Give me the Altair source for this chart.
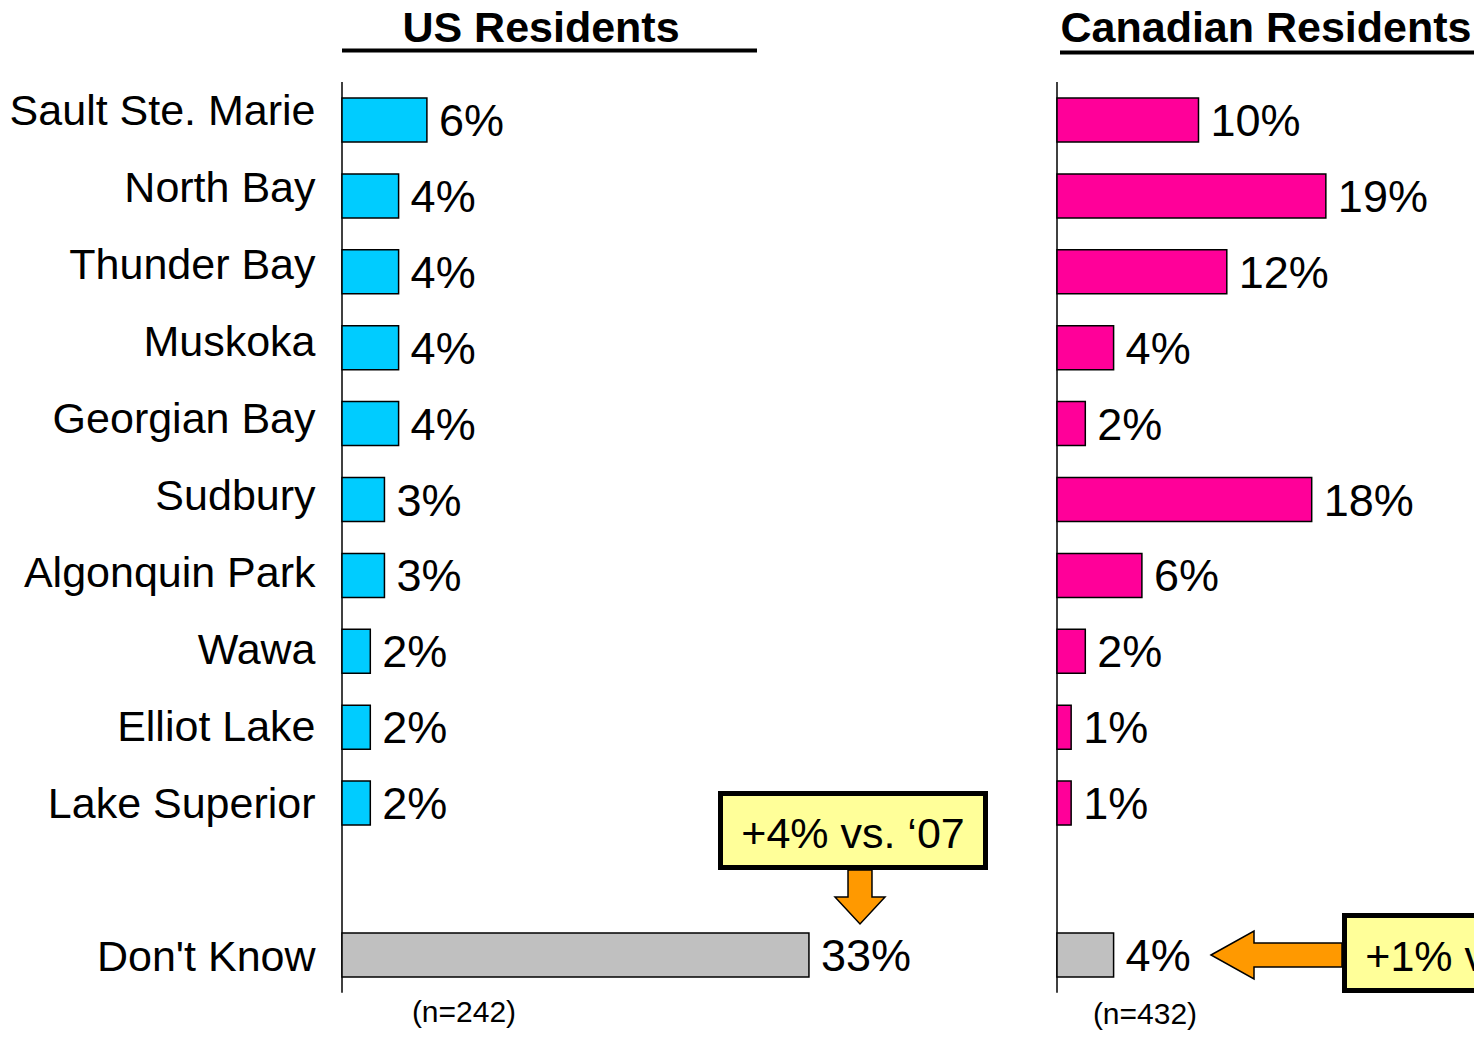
import altair as alt
import pandas as pd

# ---- data ----
categories = ["Sault Ste. Marie", "North Bay", "Thunder Bay", "Muskoka", "Georgian Bay",
              "Sudbury", "Algonquin Park", "Wawa", "Elliot Lake", "Lake Superior", "Don't Know"]
us_values = [6, 4, 4, 4, 4, 3, 3, 2, 2, 2, 33]
ca_values = [10, 19, 12, 4, 2, 18, 6, 2, 1, 1, 4]
panel_titles = ["US Residents", "Canadian Residents"]
sample_sizes = ["(n=242)", "(n=432)"]
callouts = ["+4% vs. \u201807", "+1% vs. \u201807"]

FONT = "Liberation Sans"
W, H = 1466, 1022
PX = 14.15      # pixels per percentage point
STEP = 75.9     # pixels per row

# rows: a blank gap is left before "Don't Know"
rows = list(range(len(categories) - 1)) + [len(categories)]

# scales (page x of US zero line 342, Canadian 1057; row 0 centre at page y 120)
XUS = alt.Scale(domain=[(8 - 342) / PX, (8 + W - 342) / PX], nice=False, zero=False)
XCA = alt.Scale(domain=[(8 - 1057) / PX, (8 + W - 1057) / PX], nice=False, zero=False)
Y = alt.Scale(domain=[(8 - 120) / STEP, (8 + H - 120) / STEP], nice=False, zero=False, reverse=True)


def make_df(values):
    df = pd.DataFrame({"cat": categories, "row": rows, "value": values})
    df["label"] = df["value"].astype(str) + "%"
    df["zero"] = 0
    df["y0"] = df["row"] - 0.29
    df["y1"] = df["row"] + 0.29
    return df


def panel(values, xs, color, title, title_x, title_row, ul_x, ul_x2, ul_row,
          n_text, n_x, n_row, arrow_path, arrow_size, arrow_x, arrow_row,
          box, box_text, box_text_x, box_text_row, with_labels):
    df = make_df(values)
    layers = []

    axis_df = pd.DataFrame({"x": [0], "y": [-0.5], "y2": [11.5]})
    layers.append(alt.Chart(axis_df).mark_rule(color="black", strokeWidth=1.5).encode(
        x=alt.X("x:Q", scale=xs, axis=None),
        y=alt.Y("y:Q", scale=Y, axis=None), y2="y2:Q"))

    layers.append(alt.Chart(df).mark_rect(stroke="black", strokeWidth=1.5).encode(
        x=alt.X("zero:Q", scale=xs, axis=None), x2="value:Q",
        y=alt.Y("y0:Q", scale=Y, axis=None), y2="y1:Q",
        color=alt.condition(alt.datum.cat == "Don't Know", alt.value("#C0C0C0"), alt.value(color))))

    layers.append(alt.Chart(df).mark_text(align="left", baseline="middle", dx=12, dy=2,
                                          fontSize=45, font=FONT, color="black").encode(
        x=alt.X("value:Q", scale=xs, axis=None),
        y=alt.Y("row:Q", scale=Y, axis=None), text="label:N"))

    if with_labels:
        layers.append(alt.Chart(df).transform_calculate(
            ly="datum.row * 1.0133 - 0.099", lx="-1.87").mark_text(
            align="right", baseline="middle", fontSize=43, font=FONT, color="black").encode(
            x=alt.X("lx:Q", scale=xs, axis=None),
            y=alt.Y("ly:Q", scale=Y, axis=None), text="cat:N"))

    t_df = pd.DataFrame({"x": [title_x], "y": [title_row], "t": [title]})
    layers.append(alt.Chart(t_df).mark_text(align="center", baseline="alphabetic", fontSize=43,
                                            fontWeight="bold", font=FONT, color="black").encode(
        x=alt.X("x:Q", scale=xs, axis=None), y=alt.Y("y:Q", scale=Y, axis=None), text="t:N"))

    u_df = pd.DataFrame({"x": [ul_x], "x2": [ul_x2], "y": [ul_row]})
    layers.append(alt.Chart(u_df).mark_rule(color="black", strokeWidth=4).encode(
        x=alt.X("x:Q", scale=xs, axis=None), x2="x2:Q", y=alt.Y("y:Q", scale=Y, axis=None)))

    n_df = pd.DataFrame({"x": [n_x], "y": [n_row], "t": [n_text]})
    layers.append(alt.Chart(n_df).mark_text(align="center", baseline="middle", fontSize=30,
                                            font=FONT, color="black").encode(
        x=alt.X("x:Q", scale=xs, axis=None), y=alt.Y("y:Q", scale=Y, axis=None), text="t:N"))

    a_df = pd.DataFrame({"x": [arrow_x], "y": [arrow_row]})
    layers.append(alt.Chart(a_df).mark_point(shape=arrow_path, size=arrow_size, filled=True,
                                             fill="#FF9900", stroke="black", strokeWidth=1.5,
                                             opacity=1).encode(
        x=alt.X("x:Q", scale=xs, axis=None), y=alt.Y("y:Q", scale=Y, axis=None)))

    b_df = pd.DataFrame({"x": [box[0]], "x2": [box[1]], "y": [box[2]], "y2": [box[3]]})
    layers.append(alt.Chart(b_df).mark_rect(fill="#FFFF99", stroke="black", strokeWidth=5).encode(
        x=alt.X("x:Q", scale=xs, axis=None), x2="x2:Q",
        y=alt.Y("y:Q", scale=Y, axis=None), y2="y2:Q"))

    bt_df = pd.DataFrame({"x": [box_text_x], "y": [box_text_row], "t": [box_text]})
    layers.append(alt.Chart(bt_df).mark_text(align="center", baseline="middle", fontSize=43,
                                             font=FONT, color="black").encode(
        x=alt.X("x:Q", scale=xs, axis=None), y=alt.Y("y:Q", scale=Y, axis=None), text="t:N"))

    return alt.layer(*layers)


down_arrow = "M -0.444 -1 L 0.444 -1 L 0.444 0 L 0.926 0 L 0 1 L -0.926 0 L -0.444 0 Z"
left_arrow = "M -1 0 L -0.3435 -0.366 L -0.3435 -0.183 L 1 -0.183 L 1 0.183 L -0.3435 0.183 L -0.3435 0.366 Z"

us = panel(us_values, XUS, "#00CCFF", panel_titles[0], (541 - 342) / PX, (41.5 - 120) / STEP,
           0, (757 - 342) / PX, (50.5 - 120) / STEP,
           sample_sizes[0], (464 - 342) / PX, (1013 - 120) / STEP,
           down_arrow, 54 ** 2, (860 - 342) / PX, (897 - 120) / STEP,
           [(720.5 - 342) / PX, (985.5 - 342) / PX, (793.5 - 120) / STEP, (867.5 - 120) / STEP],
           callouts[0], (853 - 342) / PX, (834.5 - 120) / STEP, True)

ca = panel(ca_values, XCA, "#FF0099", panel_titles[1], (1266 - 1057) / PX, (41.5 - 120) / STEP,
           (1060 - 1057) / PX, (1477 - 1057) / PX, (52.5 - 120) / STEP,
           sample_sizes[1], (1145 - 1057) / PX, (1015 - 120) / STEP,
           left_arrow, 131 ** 2, (1276.5 - 1057) / PX, (955 - 120) / STEP,
           [(1344.5 - 1057) / PX, (1609.5 - 1057) / PX, (915.5 - 120) / STEP, (990.5 - 120) / STEP],
           callouts[1], (1477 - 1057) / PX, (957.5 - 120) / STEP, False)

chart = alt.layer(us, ca).resolve_scale(x="independent").properties(
    width=W, height=H, padding=0, autosize=alt.AutoSizeParams(type="none")
).configure_view(strokeWidth=0)

chart.save("out.html", embed_options={"renderer": "svg", "actions": False})
